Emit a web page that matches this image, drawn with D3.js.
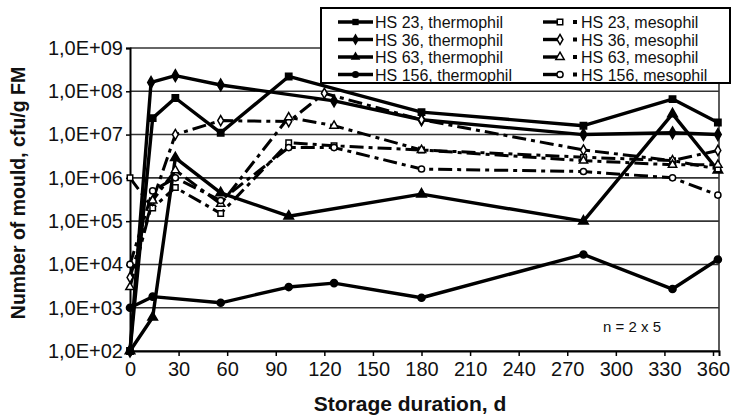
<!DOCTYPE html>
<html>
<head>
<meta charset="utf-8">
<script src="https://cdn.jsdelivr.net/npm/d3@7"></script>
<style>
  body { margin: 0; background: #fff; }
  svg { display: block; font-family: "Liberation Sans", Arial, sans-serif; }
</style>
</head>
<body>
<div id="chart"></div>
<script>
// sampling days and counts (cfu/g FM)
var hs23Days = [0, 14, 28, 56, 98, 180, 280, 335, 363];
var hs23Thermo = [1e2, 2.4e7, 7e7, 1.1e7, 2.2e8, 3.3e7, 1.6e7, 6.6e7, 1.9e7];
var hs36Days = [0, 13, 28, 56, 126, 180, 280, 335, 363];
var hs36Thermo = [1e2, 1.6e8, 2.3e8, 1.4e8, 6e7, 2.2e7, 1e7, 1.1e7, 1e7];
var hs63Days = [0, 14, 28, 56, 98, 180, 280, 335, 363];
var hs63Thermo = [1e2, 6e2, 2.9e6, 4.5e5, 1.3e5, 4.2e5, 1e5, 3e7, 1.5e6];
var hs156Days = [0, 14, 56, 98, 126, 180, 280, 335, 363];
var hs156Thermo = [1e3, 1.8e3, 1.3e3, 3e3, 3.7e3, 1.7e3, 1.7e4, 2.7e3, 1.3e4];

var hs23MesoDays = [0, 14, 28, 56, 98, 126, 180, 280, 335, 363];
var hs23Meso = [1e6, 2e5, 6e5, 1.5e5, 6.5e6, 5.5e6, 4.4e6, 3e6, 2.5e6, 1.6e6];
var hs36MesoDays = [0, 14, 28, 56, 98, 120, 180, 280, 335, 363];
var hs36Meso = [5e3, 3e5, 1e7, 2.1e7, 2e7, 9e7, 2.2e7, 4.4e6, 2.5e6, 4.3e6];
var hs63MesoDays = [0, 14, 28, 56, 98, 126, 180, 280, 335, 363];
var hs63Meso = [3e3, 3e5, 1.5e6, 2.5e5, 2.5e7, 1.6e7, 4.4e6, 2.5e6, 2e6, 2e6];
var hs156MesoDays = [0, 14, 28, 56, 98, 126, 180, 280, 335, 363];
var hs156Meso = [1e4, 5e5, 1e6, 3e5, 5e6, 5e6, 1.6e6, 1.4e6, 1e6, 4e5];

var xTicks = [0, 30, 60, 90, 120, 150, 180, 210, 240, 270, 300, 330, 360];
var yTicks = [1e2, 1e3, 1e4, 1e5, 1e6, 1e7, 1e8, 1e9];
var yTickLabels = ["1,0E+02", "1,0E+03", "1,0E+04", "1,0E+05", "1,0E+06", "1,0E+07", "1,0E+08", "1,0E+09"];

var series = [
  {name: "HS 23, thermophil", days: hs23Days, values: hs23Thermo, symbol: d3.symbolSquare, meso: false},
  {name: "HS 36, thermophil", days: hs36Days, values: hs36Thermo, symbol: d3.symbolDiamond, meso: false},
  {name: "HS 63, thermophil", days: hs63Days, values: hs63Thermo, symbol: d3.symbolTriangle, meso: false},
  {name: "HS 156, thermophil", days: hs156Days, values: hs156Thermo, symbol: d3.symbolCircle, meso: false},
  {name: "HS 23, mesophil", days: hs23MesoDays, values: hs23Meso, symbol: d3.symbolSquare, meso: true},
  {name: "HS 36, mesophil", days: hs36MesoDays, values: hs36Meso, symbol: d3.symbolDiamond, meso: true},
  {name: "HS 63, mesophil", days: hs63MesoDays, values: hs63Meso, symbol: d3.symbolTriangle, meso: true},
  {name: "HS 156, mesophil", days: hs156MesoDays, values: hs156Meso, symbol: d3.symbolCircle, meso: true}
];

var width = 733, height = 419;
var plot = {left: 130, right: 719, top: 48, bottom: 351};

var svg = d3.select("#chart").append("svg")
    .attr("width", width)
    .attr("height", height);

// scales
var x = d3.scaleLinear().domain([0, 363.7]).range([plot.left, plot.right]);
var y = d3.scaleLog().domain([1e2, 1e9]).range([plot.bottom, plot.top]);

// horizontal grid lines
svg.append("g")
  .selectAll("line")
  .data(yTicks)
  .join("line")
    .attr("x1", plot.left)
    .attr("x2", plot.right)
    .attr("y1", function(d) { return y(d); })
    .attr("y2", function(d) { return y(d); })
    .attr("stroke", "#333")
    .attr("stroke-width", 1.6);

// right frame
svg.append("line")
    .attr("x1", plot.right).attr("x2", plot.right)
    .attr("y1", plot.top).attr("y2", plot.bottom)
    .attr("stroke", "#333").attr("stroke-width", 1.6);

// x axis
var xAxis = svg.append("g")
    .attr("transform", "translate(0," + plot.bottom + ")")
    .call(d3.axisBottom(x).tickValues(xTicks).tickSizeOuter(0).tickSize(5).tickPadding(6));
xAxis.select(".domain").attr("stroke", "#000").attr("stroke-width", 2);
xAxis.selectAll(".tick line").attr("stroke", "#000").attr("stroke-width", 1.5);
xAxis.selectAll("text")
    .attr("font-size", 20)
    .attr("font-family", "'Liberation Sans', Arial, sans-serif")
    .attr("fill", "#111");

// y axis
var yAxis = svg.append("g")
    .attr("transform", "translate(" + plot.left + ",0)")
    .call(d3.axisLeft(y).tickValues(yTicks)
      .tickFormat(function(d, i) { return yTickLabels[i]; })
      .tickSizeOuter(0).tickSize(4).tickPadding(3));
yAxis.select(".domain").attr("stroke", "#000").attr("stroke-width", 2);
yAxis.selectAll(".tick line").attr("stroke", "#000").attr("stroke-width", 1.5);
yAxis.selectAll("text")
    .attr("font-size", 20)
    .attr("font-family", "'Liberation Sans', Arial, sans-serif")
    .attr("fill", "#111");

// axis titles
svg.append("text")
    .attr("x", 410)
    .attr("y", 411)
    .attr("text-anchor", "middle")
    .attr("font-size", 21)
    .attr("font-weight", "bold")
    .attr("fill", "#111")
    .text("Storage duration, d");

svg.append("text")
    .attr("transform", "translate(25,193) rotate(-90)")
    .attr("text-anchor", "middle")
    .attr("font-size", 19.5)
    .attr("font-weight", "bold")
    .attr("fill", "#111")
    .text("Number of mould, cfu/g FM");

svg.append("text")
    .attr("x", 632)
    .attr("y", 332)
    .attr("text-anchor", "middle")
    .attr("font-size", 15)
    .attr("fill", "#111")
    .text("n = 2 x 5");

// the lines
var line = d3.line()
    .x(function(d) { return x(d.day); })
    .y(function(d) { return y(d.value); });

var dashMeso = "14,5,4,5";

series.forEach(function(s) {
  var pts = s.days.map(function(d, i) { return {day: d, value: s.values[i]}; });
  svg.append("path")
      .datum(pts)
      .attr("d", line)
      .attr("fill", "none")
      .attr("stroke", "#000")
      .attr("stroke-width", s.meso ? 3 : 3.4)
      .attr("stroke-linejoin", "round")
      .attr("stroke-dasharray", s.meso ? dashMeso : null);
  s.pts = pts;
});

// markers on top
series.forEach(function(s) {
  var sym = d3.symbol().type(s.symbol).size(s.meso ? 30 : 40);
  svg.append("g")
    .selectAll("path")
    .data(s.pts)
    .join("path")
      .attr("transform", function(d) { return "translate(" + x(d.day) + "," + y(d.value) + ")"; })
      .attr("d", sym)
      .attr("fill", s.meso ? "#fff" : "#000")
      .attr("stroke", "#000")
      .attr("stroke-width", 1.5);
});

// legend
var legend = svg.append("g");
legend.append("rect")
    .attr("x", 321).attr("y", 8)
    .attr("width", 409).attr("height", 75)
    .attr("fill", "#fff")
    .attr("stroke", "#000")
    .attr("stroke-width", 2);

var rowY = [22, 39.5, 57, 74.5];
series.forEach(function(s, i) {
  var row = i % 4;
  var cy = rowY[row];
  var g = legend.append("g");
  var sym = d3.symbol().type(s.symbol).size(s.meso ? 30 : 40);
  if (!s.meso) {
    g.append("line")
        .attr("x1", 338).attr("x2", 373)
        .attr("y1", cy).attr("y2", cy)
        .attr("stroke", "#000").attr("stroke-width", 3.4);
    g.append("path")
        .attr("transform", "translate(355.5," + cy + ")")
        .attr("d", sym)
        .attr("fill", "#000");
    g.append("text")
        .attr("x", 375).attr("y", cy + 6)
        .attr("font-size", 16)
        .attr("fill", "#111")
        .text(s.name);
  } else {
    g.append("line")
        .attr("x1", 543).attr("x2", 558)
        .attr("y1", cy).attr("y2", cy)
        .attr("stroke", "#000").attr("stroke-width", 3.4);
    g.append("path")
        .attr("transform", "translate(560," + cy + ")")
        .attr("d", sym)
        .attr("fill", "#fff")
        .attr("stroke", "#000")
        .attr("stroke-width", 1.5);
    g.append("rect")
        .attr("x", 573).attr("y", cy - 2)
        .attr("width", 4).attr("height", 4)
        .attr("fill", "#000");
    g.append("text")
        .attr("x", 581).attr("y", cy + 6)
        .attr("font-size", 16)
        .attr("fill", "#111")
        .text(s.name);
  }
});
</script>
</body>
</html>
